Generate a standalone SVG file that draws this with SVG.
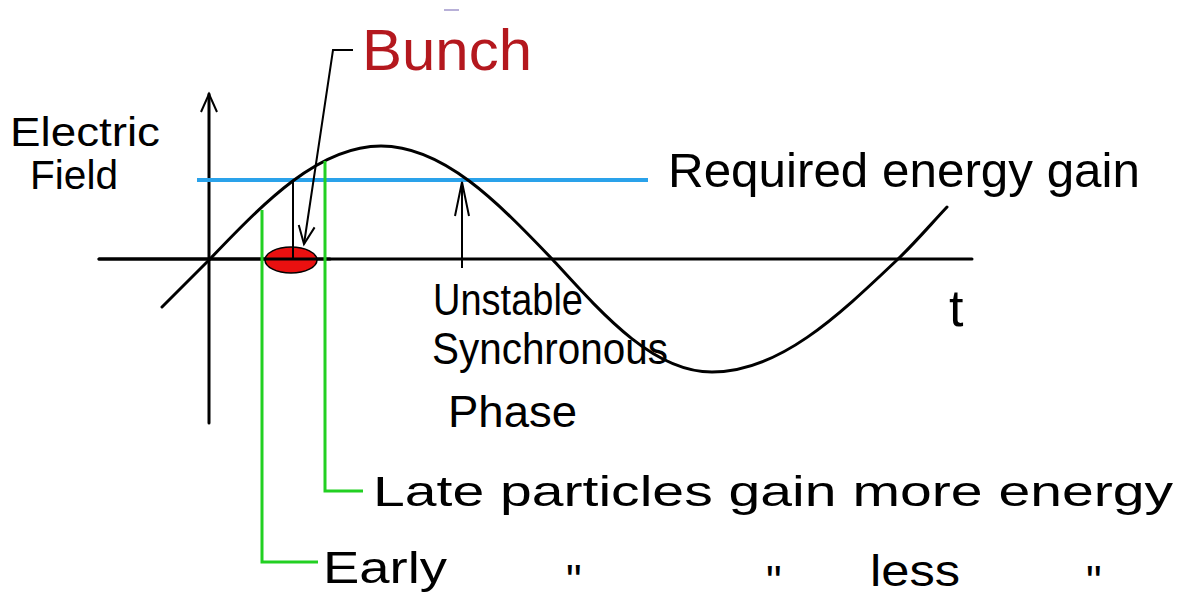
<svg xmlns="http://www.w3.org/2000/svg" width="1183" height="606" viewBox="0 0 1183 606">
<style>
.t{font-family:"Liberation Sans","DejaVu Sans",sans-serif;fill:#000;}
.q{font-family:"Liberation Sans","DejaVu Sans",sans-serif;fill:#000;font-size:44px;}
.ax{stroke:#000;stroke-width:3;fill:none;stroke-linecap:round;}
.ln{stroke:#000;stroke-width:2;fill:none;}
.gr{stroke:#22d022;stroke-width:3;fill:none;}
</style>
<defs>
<marker id="ah" markerUnits="userSpaceOnUse" markerWidth="24" markerHeight="20" refX="20" refY="10" orient="auto" viewBox="0 0 24 20">
<path d="M2,2 L20,10 L2,18" fill="none" stroke="#000" stroke-width="2"/>
</marker>
<marker id="ahl" markerUnits="userSpaceOnUse" markerWidth="40" markerHeight="20" refX="36" refY="10" orient="auto" viewBox="0 0 40 20">
<path d="M2,3 L36,10 L2,17" fill="none" stroke="#000" stroke-width="2"/>
</marker>
</defs>
<rect width="1183" height="606" fill="#fff"/>

<g id="axes">
<line class="ax" x1="209" y1="423" x2="209" y2="94" marker-end="url(#ah)"/>
<line class="ax" x1="99" y1="259" x2="972" y2="259"/>
<line x1="444" y1="10" x2="459" y2="10" stroke="#b8b0d8" stroke-width="2"/>
</g>

<g id="required-level">
<line x1="197" y1="180" x2="648" y2="180" stroke="#2aa2ea" stroke-width="4"/>
</g>

<g id="wave">
<path class="ax" d="M162,307 C178,291 193,276 209,260 C265,201.5 319,146 381,146 C443,146 497,201.5 553,260 C605,317 654,372 712,372 C779,372 837,317 897,260 C914,244 931,224 947,207"/>
</g>

<g id="bunch">
<ellipse cx="291" cy="260" rx="26" ry="13" fill="#ea1010" stroke="#000" stroke-width="1.5"/>
<line class="ax" x1="99" y1="259" x2="330" y2="259" stroke-width="2"/>
</g>

<g id="connectors">
<line class="ln" x1="293" y1="181" x2="293" y2="260" stroke-width="2.5"/>
<polyline class="ln" points="353,50 333,50 304,244" marker-end="url(#ah)"/>
<line class="ln" x1="462" y1="268" x2="462" y2="182" marker-end="url(#ahl)"/>
<polyline class="gr" points="262,210 262,562 318,562"/>
<polyline class="gr" points="325,161 325,491 363,491"/>
</g>

<g id="labels">
<text class="t" x="10" y="146" font-size="40" textLength="150" lengthAdjust="spacingAndGlyphs">Electric</text>
<text class="t" x="30" y="189" font-size="40" textLength="88" lengthAdjust="spacingAndGlyphs">Field</text>
<text class="t" x="362" y="70" font-size="58" textLength="170" lengthAdjust="spacingAndGlyphs" style="fill:#b4181e">Bunch</text>
<text class="t" x="668" y="187" font-size="48" textLength="472" lengthAdjust="spacingAndGlyphs">Required energy gain</text>
<text class="t" x="949" y="326" font-size="52">t</text>
<text class="t" x="433" y="315" font-size="44" textLength="150" lengthAdjust="spacingAndGlyphs">Unstable</text>
<text class="t" x="432" y="364" font-size="44" textLength="236" lengthAdjust="spacingAndGlyphs">Synchronous</text>
<text class="t" x="448" y="427" font-size="44" textLength="129" lengthAdjust="spacingAndGlyphs">Phase</text>
<text class="t" x="373" y="506" font-size="42" textLength="800" lengthAdjust="spacingAndGlyphs">Late particles gain more energy</text>
<text class="t" x="323" y="583" font-size="44" textLength="124" lengthAdjust="spacingAndGlyphs">Early</text>
<text class="q" x="566" y="596">"</text>
<text class="q" x="766" y="597">"</text>
<text class="t" x="870" y="586" font-size="44" textLength="90" lengthAdjust="spacingAndGlyphs">less</text>
<text class="q" x="1086" y="597">"</text>
</g>
</svg>
